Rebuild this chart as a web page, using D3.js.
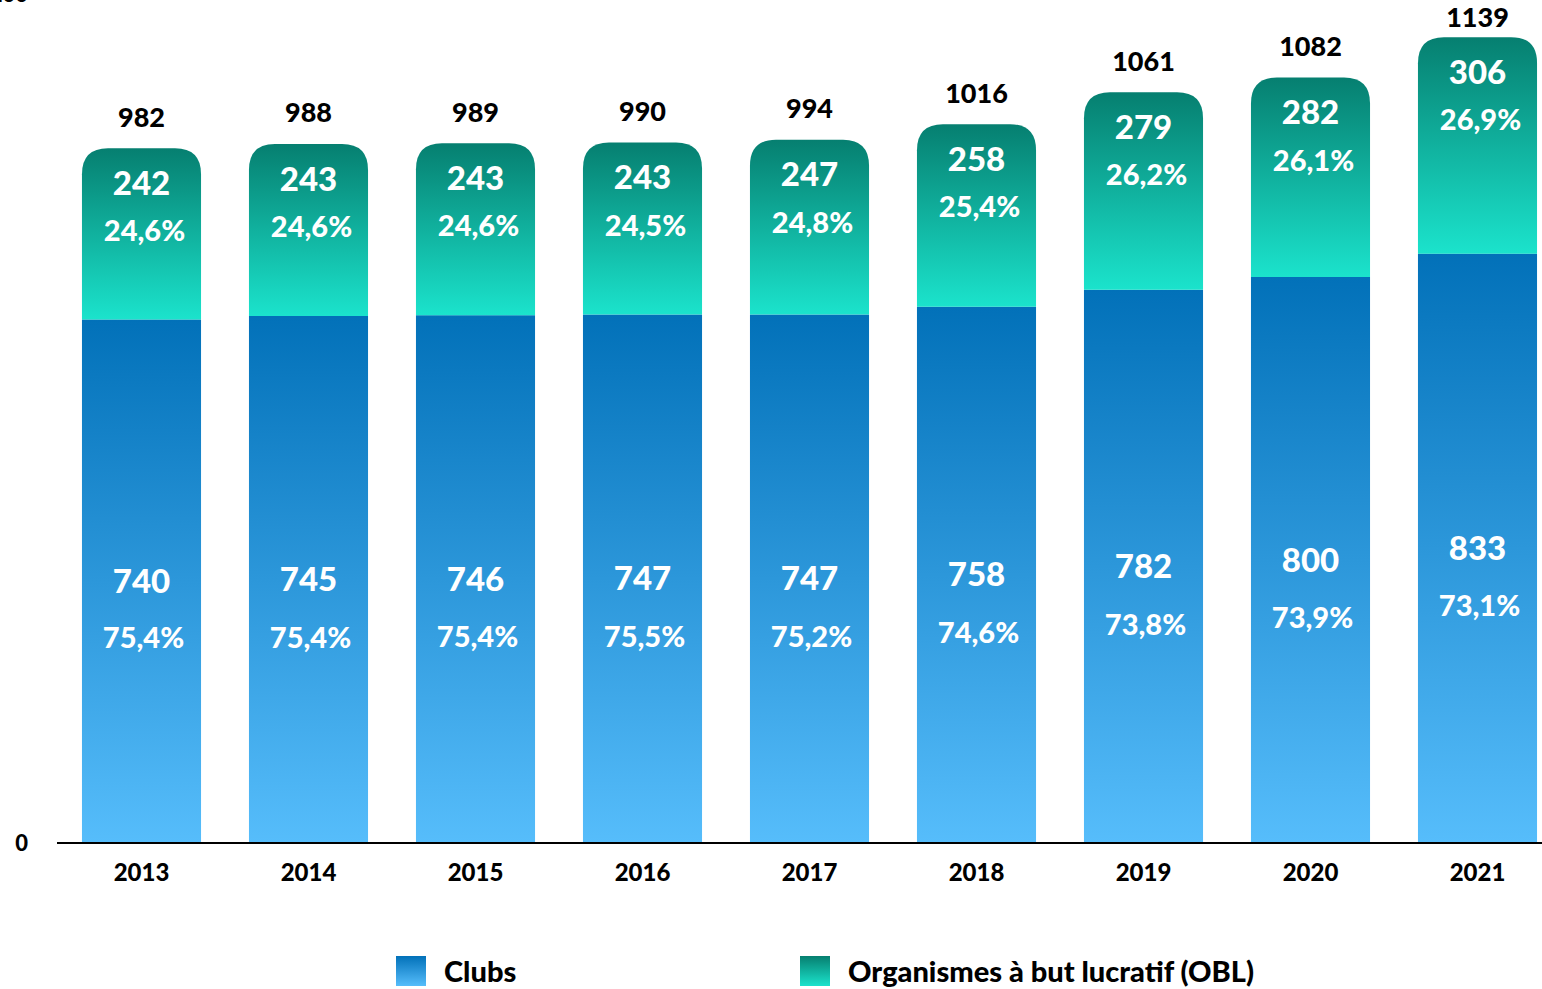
<!DOCTYPE html>
<html>
<head>
<meta charset="utf-8">
<script src="https://cdn.jsdelivr.net/npm/d3@7"></script>
<style>
  body { margin: 0; background: #fff; }
  svg { display: block; font-family: Lato, "Open Sans", sans-serif; font-weight: 900; }
</style>
</head>
<body>
<div id="container"></div>
<script>
/* CONSTANTS AND GLOBALS */
const width = 1542,
  height = 989,
  margin = { top: -6, bottom: 146, left: 58, right: -19 };

// DATA
const years = ["2013", "2014", "2015", "2016", "2017", "2018", "2019", "2020", "2021"];
const clubs = [740, 745, 746, 747, 747, 758, 782, 800, 833];
const obl = [242, 243, 243, 243, 247, 258, 279, 282, 306];
const totals = [982, 988, 989, 990, 994, 1016, 1061, 1082, 1139];
const clubsPct = ["75,4%", "75,4%", "75,4%", "75,5%", "75,2%", "74,6%", "73,8%", "73,9%", "73,1%"];
const oblPct = ["24,6%", "24,6%", "24,6%", "24,5%", "24,8%", "25,4%", "26,2%", "26,1%", "26,9%"];
const yTicks = [0, 1200];
const legendLabels = ["Clubs", "Organismes à but lucratif (OBL)"];

const rows = years.map((y, i) => ({
  year: y, clubs: clubs[i], obl: obl[i], total: totals[i],
  clubsPct: clubsPct[i], oblPct: oblPct[i]
}));

const svg = d3.select("#container")
  .append("svg")
  .attr("width", width)
  .attr("height", height);

// gradients
const defs = svg.append("defs");
function grad(id, top, bottom) {
  const g = defs.append("linearGradient").attr("id", id)
    .attr("x1", 0).attr("y1", 0).attr("x2", 0).attr("y2", 1);
  g.append("stop").attr("offset", "0%").attr("stop-color", top);
  g.append("stop").attr("offset", "100%").attr("stop-color", bottom);
}
grad("gClubs", "#0271b9", "#56bdfb");
grad("gObl", "#067f70", "#1be3cc");

// SCALES
const x = d3.scaleBand()
  .domain(years)
  .range([margin.left, width - margin.right])
  .paddingInner(0.287)
  .paddingOuter(0.1435);

const y = d3.scaleLinear()
  .domain([0, 1200])
  .range([height - margin.bottom, margin.top]);

const bw = x.bandwidth();
const r = 26;
const cx = d => x(d.year) + bw / 2;

// clubs segment
svg.selectAll("rect.clubs")
  .data(rows)
  .join("rect")
  .attr("class", "clubs")
  .attr("x", d => x(d.year))
  .attr("y", d => y(d.clubs))
  .attr("width", bw)
  .attr("height", d => y(0) - y(d.clubs))
  .attr("fill", "url(#gClubs)");

// OBL segment with rounded top
svg.selectAll("path.obl")
  .data(rows)
  .join("path")
  .attr("class", "obl")
  .attr("fill", "url(#gObl)")
  .attr("d", d => {
    const x0 = x(d.year), x1 = x0 + bw;
    const yt = y(d.clubs + d.obl), yb = y(d.clubs);
    return `M${x0},${yb} L${x0},${yt + r} Q${x0},${yt} ${x0 + r},${yt}
            L${x1 - r},${yt} Q${x1},${yt} ${x1},${yt + r} L${x1},${yb} Z`;
  });

// axis line
svg.append("line")
  .attr("x1", 57).attr("x2", width)
  .attr("y1", y(0)).attr("y2", y(0))
  .attr("stroke", "#000").attr("stroke-width", 2);

// y tick labels (top one is cut off by the edge, as in the original)
svg.selectAll("text.ytick")
  .data(yTicks)
  .join("text")
  .attr("class", "ytick")
  .attr("x", 28)
  .attr("y", d => y(d))
  .attr("dy", "0.35em")
  .attr("text-anchor", "end")
  .attr("font-size", 22)
  .text(d => d);

// year labels
svg.selectAll("text.year")
  .data(rows)
  .join("text")
  .attr("class", "year")
  .attr("x", cx)
  .attr("y", y(0) + 30)
  .attr("dy", "0.35em")
  .attr("text-anchor", "middle")
  .attr("font-size", 24)
  .text(d => d.year);

// totals
svg.selectAll("text.total")
  .data(rows)
  .join("text")
  .attr("class", "total")
  .attr("x", cx)
  .attr("y", d => Math.max(y(d.total) - 31, 18))
  .attr("dy", "0.35em")
  .attr("text-anchor", "middle")
  .attr("font-size", 27)
  .text(d => d.total);

// OBL labels
svg.selectAll("text.oblv")
  .data(rows)
  .join("text")
  .attr("class", "oblv")
  .attr("x", cx)
  .attr("y", d => y(d.total) + 35)
  .attr("dy", "0.35em")
  .attr("text-anchor", "middle")
  .attr("fill", "#fff")
  .attr("font-size", 33)
  .text(d => d.obl);

svg.selectAll("text.oblp")
  .data(rows)
  .join("text")
  .attr("class", "oblp")
  .attr("x", d => cx(d) + 3)
  .attr("y", d => y(d.total) + 83)
  .attr("dy", "0.35em")
  .attr("text-anchor", "middle")
  .attr("fill", "#fff")
  .attr("font-size", 29)
  .text(d => d.oblPct);

// clubs labels
svg.selectAll("text.clubsv")
  .data(rows)
  .join("text")
  .attr("class", "clubsv")
  .attr("x", cx)
  .attr("y", d => y(d.clubs / 2))
  .attr("dy", "0.35em")
  .attr("text-anchor", "middle")
  .attr("fill", "#fff")
  .attr("font-size", 33)
  .text(d => d.clubs);

svg.selectAll("text.clubsp")
  .data(rows)
  .join("text")
  .attr("class", "clubsp")
  .attr("x", d => cx(d) + 2)
  .attr("y", d => Math.min(y(d.clubs / 2) + 58, 638))
  .attr("dy", "0.35em")
  .attr("text-anchor", "middle")
  .attr("fill", "#fff")
  .attr("font-size", 29)
  .text(d => d.clubsPct);

// legend
const legendX = [396, 800];
const legend = svg.selectAll("g.legend")
  .data(legendLabels)
  .join("g")
  .attr("class", "legend")
  .attr("transform", (d, i) => `translate(${legendX[i]}, 956)`);

legend.append("rect")
  .attr("width", 30).attr("height", 30)
  .attr("fill", (d, i) => i === 0 ? "url(#gClubs)" : "url(#gObl)");

legend.append("text")
  .attr("x", 48)
  .attr("y", 16)
  .attr("dy", "0.35em")
  .attr("font-size", 29)
  .text(d => d);
</script>
</body>
</html>
